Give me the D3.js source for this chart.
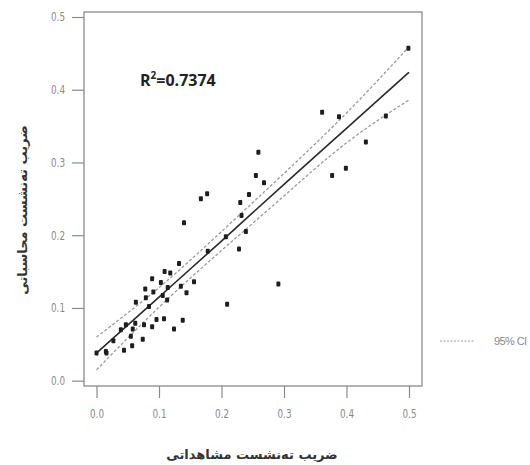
<!DOCTYPE html>
<html>
<head>
<meta charset="utf-8">
<script src="https://cdn.jsdelivr.net/npm/d3@7"></script>
<style>
	body { margin: 0; background: #fff; }
	.tick text { font-family: "DejaVu Sans", sans-serif; font-size: 12px; fill: #8a8a8a; }
	.tick line { stroke: #8a8a8a; stroke-width: 1.2; }
</style>
</head>
<body>
<svg id="chart" width="530" height="465" viewBox="0 0 530 465"></svg>
<script>
const observed = [0.000, 0.015, 0.016, 0.027, 0.039, 0.044, 0.047, 0.055, 0.058, 0.057,
	0.063, 0.062, 0.074, 0.076, 0.078, 0.079, 0.084, 0.089, 0.091, 0.089,
	0.096, 0.103, 0.106, 0.108, 0.109, 0.113, 0.114, 0.118, 0.124, 0.132,
	0.135, 0.138, 0.144, 0.156, 0.178, 0.207, 0.209, 0.228, 0.239, 0.140,
	0.167, 0.177, 0.230, 0.232, 0.244, 0.255, 0.259, 0.268, 0.361, 0.388,
	0.377, 0.399, 0.431, 0.463, 0.499, 0.291];
const computed = [0.038, 0.040, 0.038, 0.055, 0.070, 0.042, 0.077, 0.061, 0.071, 0.048,
	0.108, 0.079, 0.057, 0.077, 0.126, 0.114, 0.102, 0.140, 0.122, 0.074,
	0.084, 0.135, 0.117, 0.085, 0.150, 0.111, 0.128, 0.148, 0.071, 0.161,
	0.130, 0.083, 0.121, 0.136, 0.178, 0.198, 0.105, 0.181, 0.205, 0.217,
	0.250, 0.257, 0.245, 0.227, 0.256, 0.282, 0.314, 0.272, 0.369, 0.363,
	0.282, 0.292, 0.328, 0.364, 0.457, 0.133];

// fitted line and 95% confidence band
const fitX = [0, 0.1, 0.2, 0.3, 0.4, 0.5];
const fitY = [0.038, 0.115, 0.192, 0.270, 0.347, 0.424];
const ciUpper = [0.060, 0.128, 0.205, 0.285, 0.368, 0.459];
const ciLower = [0.015, 0.101, 0.179, 0.254, 0.327, 0.386];

const ticks = [0, 0.1, 0.2, 0.3, 0.4, 0.5];
const rSquared = "0.7374";
const xTitle = "ضریب ته‌نشست مشاهداتی";
const yTitle = "ضریب ته‌نشست محاسباتی";
const legendLabel = "95% CI";

function whenDocumentLoaded(action) {
	if (document.readyState === "loading") {
		document.addEventListener("DOMContentLoaded", action);
	} else {
		action();
	}
}

whenDocumentLoaded(() => {
	const svg = d3.select("#chart");

	const box = {left: 84, top: 12, right: 422, bottom: 386};

	const x = d3.scaleLinear().domain([0, 0.5]).range([96.5, 409]);
	const y = d3.scaleLinear().domain([0, 0.5]).range([380.7, 17]);

	// squeeze tick labels, the original uses a narrow face
	const narrow = (g) => g.selectAll(".tick text")
		.attr("textLength", 14)
		.attr("lengthAdjust", "spacingAndGlyphs");

	// axes, R style: ticks outside the box
	svg.append("g")
		.attr("transform", "translate(" + box.left + ",0)")
		.call(d3.axisLeft(y).tickValues(ticks).tickFormat(d3.format(".1f")).tickSize(12).tickPadding(7))
		.call(g => g.select(".domain").remove())
		.call(narrow);

	svg.append("g")
		.attr("transform", "translate(0," + box.bottom + ")")
		.call(d3.axisBottom(x).tickValues(ticks).tickFormat(d3.format(".1f")).tickSize(12).tickPadding(11))
		.call(g => g.select(".domain").remove())
		.call(narrow);

	svg.append("rect")
		.attr("x", box.left).attr("y", box.top)
		.attr("width", box.right - box.left).attr("height", box.bottom - box.top)
		.attr("fill", "none").attr("stroke", "#8a8a8a").attr("stroke-width", 1.3);

	// CI band
	const band = (vals) => d3.line()
		.x((d, i) => x(fitX[i]))
		.y((d) => y(d))
		.curve(d3.curveNatural)(vals);

	[ciUpper, ciLower].forEach(vals => {
		svg.append("path")
			.attr("d", band(vals))
			.attr("fill", "none")
			.attr("stroke", "#9a9a9a")
			.attr("stroke-width", 1.3)
			.attr("stroke-dasharray", "3,2");
	});

	svg.append("path")
		.attr("d", band(fitY))
		.attr("fill", "none")
		.attr("stroke", "#2a2a2a")
		.attr("stroke-width", 1.6);

	// points
	svg.append("g").selectAll("rect")
		.data(observed.map((d, i) => [d, computed[i]]))
		.enter().append("rect")
		.attr("x", d => x(d[0]) - 2)
		.attr("y", d => y(d[1]) - 2.5)
		.attr("width", 4)
		.attr("height", 5)
		.attr("rx", 1)
		.attr("fill", "#1e1e1e");

	// R^2
	const r2 = svg.append("text")
		.attr("x", 140).attr("y", 86)
		.style("font-family", "'Open Sans', sans-serif")
		.style("font-weight", 700)
		.style("font-size", "16px")
		.attr("fill", "#222");
	r2.append("tspan").text("R");
	r2.append("tspan").attr("dy", -7).style("font-size", "10px").text("2");
	r2.append("tspan").attr("dy", 7).text("=" + rSquared);

	// axis titles
	svg.append("text")
		.attr("x", 252).attr("y", 459)
		.attr("text-anchor", "middle")
		.attr("direction", "rtl")
		.style("font-family", "'DejaVu Sans', sans-serif")
		.style("font-weight", 700)
		.style("font-size", "13px")
		.attr("fill", "#333")
		.text(xTitle);

	svg.append("text")
		.attr("transform", "translate(27,210) rotate(-90)")
		.attr("text-anchor", "middle")
		.attr("direction", "rtl")
		.style("font-family", "'DejaVu Sans', sans-serif")
		.style("font-weight", 700)
		.style("font-size", "13px")
		.attr("fill", "#333")
		.text(yTitle);

	// legend
	svg.append("line")
		.attr("x1", 440).attr("x2", 475)
		.attr("y1", 341).attr("y2", 341)
		.attr("stroke", "#9a9a9a")
		.attr("stroke-width", 1)
		.attr("stroke-dasharray", "2,1.5");
	svg.append("text")
		.attr("x", 494).attr("y", 345)
		.style("font-family", "'Liberation Sans', sans-serif")
		.style("font-size", "11px")
		.style("letter-spacing", "-0.6px")
		.attr("fill", "#8a8a8a")
		.text(legendLabel);
});
</script>
</body>
</html>
